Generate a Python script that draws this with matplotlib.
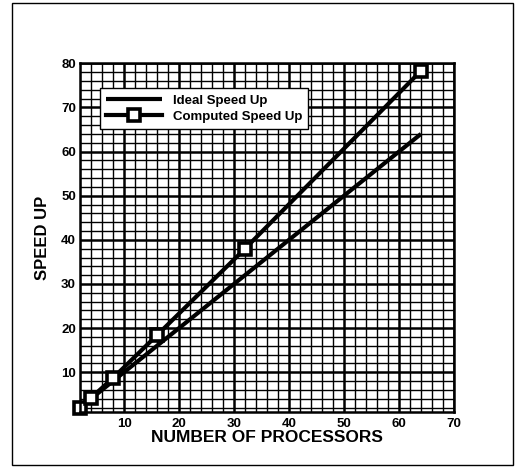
import matplotlib
matplotlib.use("Agg")
import matplotlib.pyplot as plt
from matplotlib.patches import Rectangle
from matplotlib.ticker import MultipleLocator

# Speed-up versus number of processors
processors = [2, 4, 8, 16, 32, 64]
ideal_speedup = [2, 4, 8, 16, 32, 64]
computed_speedup = [2, 4.2, 8.7, 18.4, 38, 78.3]

x_ticks = [10, 20, 30, 40, 50, 60, 70]
y_ticks = [10, 20, 30, 40, 50, 60, 70, 80]

plt.rcParams['font.family'] = ['Liberation Sans', 'DejaVu Sans']
plt.rcParams['font.weight'] = 'bold'

W, H = 521, 468
fig = plt.figure(figsize=(W / 100, H / 100), dpi=100)
ax = fig.add_axes([80 / W, 1 - 412 / H, (454 - 80) / W, (412 - 63.3) / H])

# Outer frame around the whole figure
fig.patches.append(Rectangle((12 / W, 1 - 465 / H), (513 - 12) / W, (465 - 3) / H,
                             transform=fig.transFigure, fill=False,
                             edgecolor='black', linewidth=1.0))

ax.set_xlim(2, 70)
ax.set_ylim(1, 80)
ax.set_xticks(x_ticks)
ax.set_yticks(y_ticks)
ax.xaxis.set_minor_locator(MultipleLocator(2))
ax.yaxis.set_minor_locator(MultipleLocator(2))
ax.grid(which='major', color='black', linewidth=1.8)
ax.grid(which='minor', color='black', linewidth=1.0)
ax.set_axisbelow(True)
ax.tick_params(which='both', length=0)
ax.tick_params(axis='x', pad=4, labelsize=9.5)
ax.tick_params(axis='y', pad=3, labelsize=9.5)
for lab in ax.get_xticklabels() + ax.get_yticklabels():
    lab.set_fontweight('bold')
for sp in ax.spines.values():
    sp.set_linewidth(1.8)

ax.plot(processors, ideal_speedup, color='black', linewidth=3.0,
        label='Ideal Speed Up', solid_capstyle='butt')
ax.plot(processors, computed_speedup, color='black', linewidth=3.0,
        marker='s', markersize=8.5, markerfacecolor='white',
        markeredgecolor='black', markeredgewidth=2.6,
        label='Computed Speed Up', clip_on=False)

ax.set_xlabel('NUMBER OF PROCESSORS', fontsize=12.5, fontweight='bold', labelpad=0)
ax.set_ylabel('SPEED UP', fontsize=12, fontweight='bold', labelpad=8)

leg = ax.legend(loc='upper left', bbox_to_anchor=(0.053, 0.928), borderaxespad=0,
                fancybox=False, framealpha=1, edgecolor='black',
                prop={'size': 9.5, 'weight': 'bold'}, handlelength=4.3,
                borderpad=0.45, labelspacing=0.3, handletextpad=0.8)
leg.get_frame().set_linewidth(1.0)

fig.savefig('out.png', dpi=100)
